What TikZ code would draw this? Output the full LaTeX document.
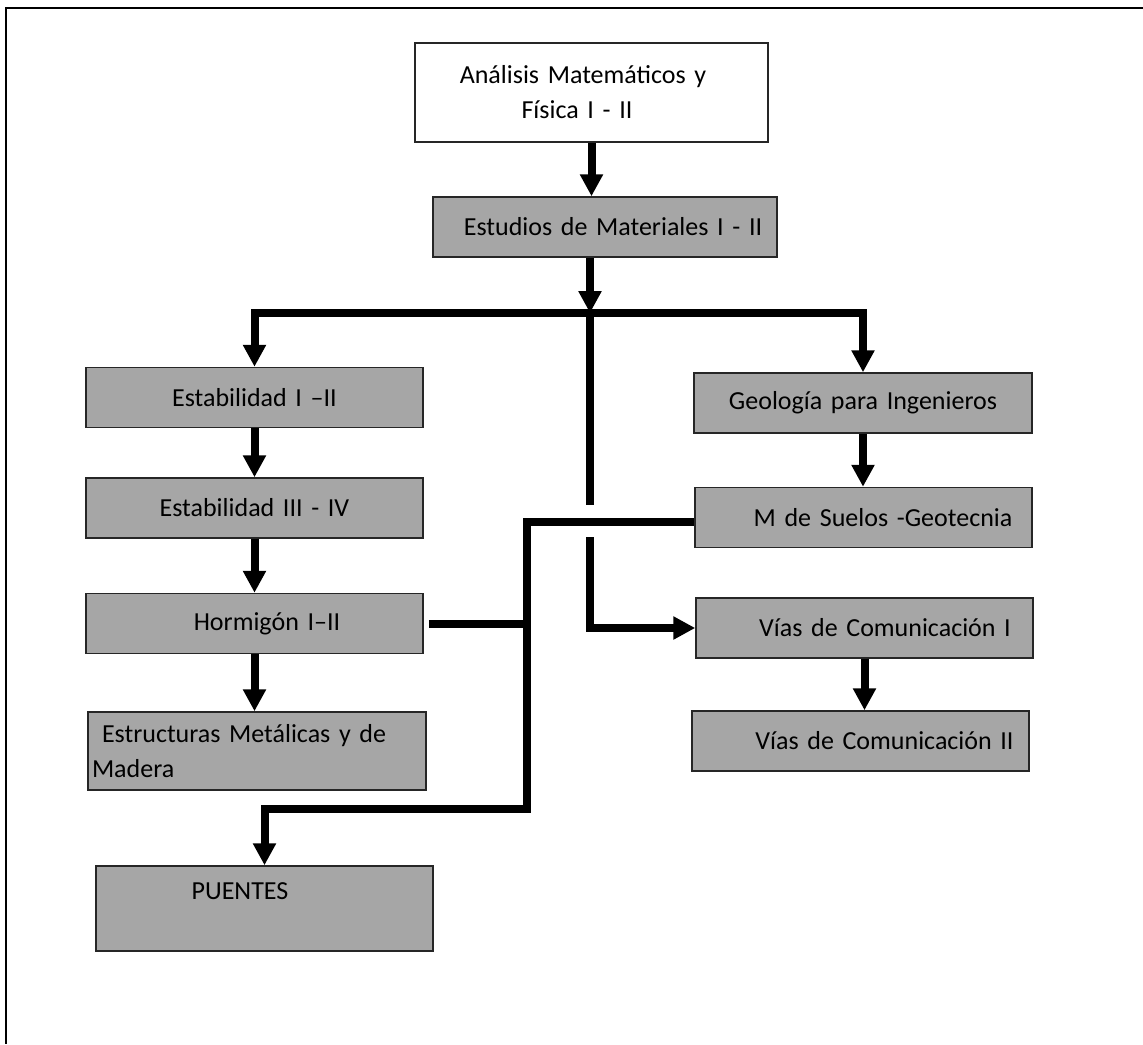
\documentclass[tikz,border=0pt]{standalone}
\usepackage{fontspec}
\setmainfont{Carlito}
\usetikzlibrary{arrows.meta}
\definecolor{boxgrey}{HTML}{A6A6A6}

\tikzset{
  box/.style={draw=black!85, line width=1.5pt, fill=boxgrey, minimum width=337pt,
    minimum height=60pt, inner sep=0pt, text width=337pt, align=center,
    font=\fontsize{26}{35}\selectfont},
  conn/.style={line width=8pt, -{Triangle[width=22pt,length=22pt]}},
  link/.style={line width=8pt},
}

\begin{document}
\begin{tikzpicture}[x=1pt,y=-1pt]
                  \useasboundingbox (0,0) rectangle (1143,1044);
                  \draw[line width=2pt] (1143,8) -- (6,8) -- (6,1044);
                  % left column
                  \node[box, fill=white, minimum width=353pt, text width=353pt, minimum height=99pt] (anal) at (591.5,92.5)
                        {\hspace*{-17pt}Análisis Matemáticos y\\\hspace*{-29pt}Física I - II};
                  \node[box, minimum width=344pt, text width=344pt] (estud) at (605,227) {\hspace*{16pt}Estudios de Materiales I - II};
                  \node[box] (estab1) at (254.5,397.5) {Estabilidad I –II};
                  \node[box] (estab3) at (254.5,508) {Estabilidad III - IV};
                  \node[box] (horm) at (254.5,623.5) {\hspace*{25pt}Hormigón I–II};
                  \node[box, minimum width=338pt, minimum height=78pt, inner xsep=4pt, text width=330pt, align=left] (estruct) at (257,751)
                        {\hspace*{10pt}Estructuras Metálicas y de\\Madera};
                  \node[box, minimum height=85pt] (puentes) at (264.5,908.5) {\hspace*{-49pt}PUENTES\\\mbox{}};
                  % right column
                  \node[box, minimum width=338pt, text width=338pt] (geol) at (863,403) {Geología para Ingenieros};
                  \node[box] (suelos) at (863.5,517.5) {\hspace*{39pt}M de Suelos -Geotecnia};
                  \node[box] (vias1) at (864.5,628) {\hspace*{41pt}Vías de Comunicación I};
                  \node[box] (vias2) at (860.5,741) {\hspace*{48pt}Vías de Comunicación II};

                  \coordinate (barM) at (590,313);
                  \coordinate (gapT) at (590,505);
                  \coordinate (gapB) at (590,537);
                  \coordinate (jBot) at (527,809);

                  \draw[conn] (anal) -- (anal |- estud.north);
                  \draw[conn] (estud.south -| barM) -- (barM);
                  \draw[conn] (barM) -| (estab1);
                  \draw[conn] (barM) -| (geol);
                  \draw[link] (barM) -- (gapT);
                  \draw[conn] (gapB) |- (vias1);
                  \draw[conn] (estab1) -- (estab3);
                  \draw[conn] (estab3) -- (horm);
                  \draw[conn] (horm) -- (horm |- estruct.north);
                  \draw[conn] (geol) -- (geol |- suelos.north);
                  \draw[conn] (vias1) -- (vias1 |- vias2.north);
                  \draw[link] ([xshift=5pt]horm.east) -- (horm.east -| jBot);
                  \draw[conn] ([yshift=-4pt]suelos.west) -| (jBot) -| (puentes);
                \end{tikzpicture}
\end{document}
